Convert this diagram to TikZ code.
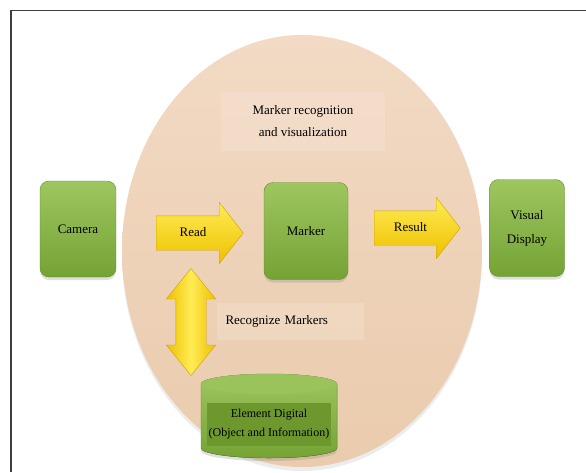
\documentclass[tikz,border=0pt]{standalone}
\usepackage{fontspec}
\setmainfont{Liberation Serif}
\usetikzlibrary{positioning,shapes.arrows,shapes.geometric,shadows}

\definecolor{peach}{RGB}{234,203,173}
\definecolor{peachlight}{RGB}{242,218,196}
\definecolor{leaf}{RGB}{116,163,52}
\definecolor{leaflight}{RGB}{158,198,96}
\definecolor{leafdark}{RGB}{108,152,46}
\definecolor{gold}{RGB}{238,192,0}
\definecolor{goldlight}{RGB}{255,236,84}

\begin{document}
\begin{tikzpicture}[x=1pt,y=-1pt,
    txt/.style={font=\fontsize{13}{15}\selectfont,align=center},
    greenbox/.style={txt,rounded corners=9pt,top color=leaflight,bottom color=leaf,
        draw=leaf!85!black,line width=0.4pt,
        drop shadow={opacity=0.25,shadow xshift=0pt,shadow yshift=-3pt}},
    fatarrow/.style={txt,single arrow,single arrow head extend=13.5pt,single arrow tip angle=104,
        top color=goldlight,bottom color=gold,draw=gold!85!black,
        inner xsep=4pt,inner ysep=11pt,text height=9pt,text depth=3pt}]
    \useasboundingbox (0,0) rectangle (586,472);

    \node[ellipse,top color=peachlight,bottom color=peach,minimum width=360pt,minimum height=432pt,
        drop shadow={opacity=0.15,shadow xshift=0pt,shadow yshift=-4pt}] (core) at (302,251) {};

    \node[txt,fill=white,fill opacity=0.15,text opacity=1,minimum width=164pt,minimum height=59pt,
        font=\fontsize{13}{22}\selectfont] (title) at (303,121) {Marker recognition\\and visualization};

    \node[greenbox,minimum width=76pt,minimum height=96pt] (camera) at (78,229) {Camera};
    \node[greenbox,minimum width=84pt,minimum height=97pt] (marker) at (306,231) {Marker};
    \node[greenbox,minimum width=75pt,minimum height=97pt,font=\fontsize{13}{24}\selectfont] (display) at (527,228) {Visual\\Display};

    \node[fatarrow,minimum height=87pt,anchor=tail] (read) at (156,233) {Read};
    \node[fatarrow,minimum height=86pt,anchor=tail] (result) at (374,228) {Result};

    \node[double arrow,shape border rotate=90,double arrow head extend=9.5pt,double arrow tip angle=78,
        minimum height=107pt,inner sep=15pt,left color=gold,right color=gold,middle color=goldlight,
        draw=gold!85!black] (recog) at (191,322) {};

    \node[txt,fill=white,fill opacity=0.15,text opacity=1,text width=129pt,inner xsep=9pt,
        minimum height=37pt,align=left] (recoglbl) at (290,321) {Recognize Markers};

    \filldraw[top color=leaflight,bottom color=leaf,draw=leaf!85!black,line width=0.4pt,
        drop shadow={opacity=0.25,shadow xshift=0pt,shadow yshift=-3pt}]
        (201,384) -- (201,448) arc (180:0:68 and 10) -- (337,384) arc (360:180:68 and 10) -- cycle;
    \filldraw[fill=leaflight!90!leaf,draw=leaf!70!white,line width=0.4pt] (269,384) ellipse (68 and 10);
    \node[txt,fill=leafdark,minimum width=124pt,minimum height=43pt,inner xsep=2pt,
        font=\fontsize{12}{19}\selectfont] (element) at (269,424) {Element Digital\\(Object and Information)};

    \draw[line width=1.2pt,black!75] (11,472) -- (11,10.5) -- (586,10.5);
\end{tikzpicture}
\end{document}
